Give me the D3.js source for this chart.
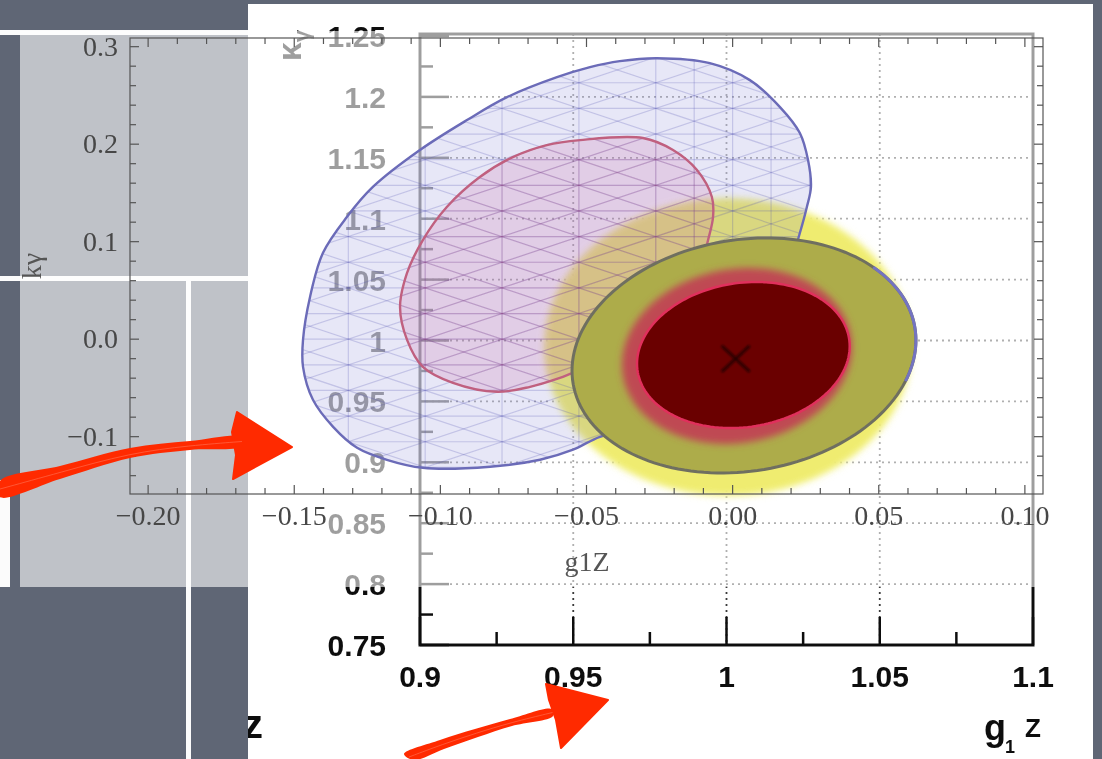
<!DOCTYPE html>
<html><head><meta charset="utf-8">
<script src="https://cdn.jsdelivr.net/npm/d3@7"></script>
<style>html,body{margin:0;padding:0;background:#5f6675;}svg{display:block}</style>
</head><body><svg id="c" width="1102" height="759"></svg>
<script>
// ---------------- DATA ----------------
// ROOT plot (g1Z vs kappa_gamma)
const rootXTicks = [0.9, 0.95, 1.0, 1.05, 1.1];
const rootXLabels = ["0.9", "0.95", "1", "1.05", "1.1"];
const rootXMinor = [0.925, 0.975, 1.025, 1.075];
const rootYTicks = [0.75, 0.8, 0.85, 0.9, 0.95, 1.0, 1.05, 1.1, 1.15, 1.2, 1.25];
const rootYLabels = ["0.75", "0.8", "0.85", "0.9", "0.95", "1", "1.05", "1.1", "1.15", "1.2", "1.25"];
const rootYMinor = [0.775, 0.825, 0.875, 0.925, 0.975, 1.025, 1.075, 1.125, 1.175, 1.225];
const rootGridX = [0.95, 1.0, 1.05];
const rootGridY = [0.8, 0.85, 0.9, 0.95, 1.0, 1.05, 1.1, 1.15, 1.2];
// ROOT contours: outer glow, outer band, inner halo, inner core
const rootCenterX = [1.0005, 1.0057, 1.0034, 1.0055];
const rootCenterY = [0.9947, 0.9877, 0.9873, 0.9881];
const rootHalfWidth = [0.0594, 0.0561, 0.0375, 0.0347];
const rootHalfHeight = [0.1207, 0.0965, 0.0722, 0.0600];
const rootTilt = [0.0, 0.13, 0.10, 0.12];
const bestFit = [1.003, 0.985];

// Overlaid plot (g1Z, k_gamma deviations)
const mmaXTicks = [-0.2, -0.15, -0.1, -0.05, 0.0, 0.05, 0.1];
const mmaXLabels = ["\u22120.20", "\u22120.15", "\u22120.10", "\u22120.05", "0.00", "0.05", "0.10"];
const mmaYTicks = [-0.1, 0.0, 0.1, 0.2, 0.3];
const mmaYLabels = ["\u22120.1", "0.0", "0.1", "0.2", "0.3"];
const mmaXRange = [-0.2062, 0.1062];
const mmaYRange = [-0.1588, 0.3089];
const blueContourX = [-0.0259,-0.0078,0.0059,0.0162,0.0230,0.0258,0.0268,0.0254,0.0230,0.0179,0.0059,-0.0112,-0.0317,-0.0454,-0.0546,-0.0659,-0.0830,-0.1060,-0.1183,-0.1285,-0.1367,-0.1436,-0.1470,-0.1470,-0.1446,-0.1402,-0.1320,-0.1231,-0.1070,-0.0909,-0.0772,-0.0601,-0.0488,-0.0386];
const blueContourY = [0.2882,0.2831,0.2657,0.2380,0.2114,0.1837,0.1561,0.1356,0.1089,0.0608,0.0000,-0.0570,-0.0908,-0.1001,-0.1134,-0.1237,-0.1308,-0.1319,-0.1237,-0.1114,-0.0899,-0.0622,-0.0284,-0.0007,0.0433,0.0884,0.1253,0.1561,0.1940,0.2247,0.2482,0.2687,0.2790,0.2852];
const pinkContourX = [-0.0522,-0.0307,-0.0204,-0.0122,-0.0071,-0.0067,-0.0084,-0.0112,-0.0180,-0.0317,-0.0454,-0.0546,-0.0591,-0.0693,-0.0806,-0.0957,-0.1060,-0.1114,-0.1138,-0.1114,-0.1060,-0.0978,-0.0865,-0.0752,-0.0636];
const pinkContourY = [0.2042,0.2063,0.1940,0.1735,0.1458,0.1253,0.1017,0.0710,0.0300,-0.0059,-0.0264,-0.0346,-0.0397,-0.0489,-0.0540,-0.0448,-0.0284,-0.0007,0.0331,0.0679,0.1017,0.1356,0.1663,0.1868,0.1991];
const meshStep = 0.0263;

// ---------------- DRAW ----------------
const svg = d3.select("#c");
const defs = svg.append("defs");
function blur(id, s){ defs.append("filter").attr("id", id).attr("x","-30%").attr("y","-30%").attr("width","160%").attr("height","160%")
  .append("feGaussianBlur").attr("stdDeviation", s); }
blur("b06", 0.6); blur("glow", 5); blur("blob", 3.5); blur("b1", 1);

const xR = d3.scaleLinear([0.9, 1.1], [420, 1033]);
const yR = d3.scaleLinear([0.75, 1.25], [645, 36]);
const xM = d3.scaleLinear(mmaXRange, [130, 1043]);
const yM = d3.scaleLinear(mmaYRange, [494, 38]);

// slide background
svg.append("rect").attr("width", 1102).attr("height", 759).attr("fill", "#5f6675");
const slideW = svg.append("g").attr("fill", "#fbfbfb");
slideW.append("rect").attr("x", 0).attr("y", 30).attr("width", 248).attr("height", 5);
slideW.append("rect").attr("x", 0).attr("y", 276).attr("width", 248).attr("height", 5);
slideW.append("rect").attr("x", 186).attr("y", 281).attr("width", 5).attr("height", 478);
slideW.append("rect").attr("x", 0).attr("y", 480).attr("width", 10).attr("height", 107);

// ROOT panel
svg.append("rect").attr("x", 248).attr("y", 4).attr("width", 845).attr("height", 755).attr("fill", "#ffffff");
defs.append("clipPath").attr("id", "panel").append("rect").attr("x", 248).attr("y", 4).attr("width", 845).attr("height", 755);
const root = svg.append("g").attr("clip-path", "url(#panel)");

// grid
const grid = root.append("g").attr("stroke", "#3a3a3a").attr("stroke-width", 1.8).attr("stroke-dasharray", "2,4");
rootGridX.forEach(v => grid.append("line").attr("x1", xR(v)).attr("x2", xR(v)).attr("y1", yR(1.25)-2).attr("y2", yR(0.75)));
rootGridY.forEach(v => grid.append("line").attr("x1", xR(0.9)).attr("x2", xR(1.1)).attr("y1", yR(v)).attr("y2", yR(v)));

// axes
const ax = root.append("g").attr("stroke", "#111").attr("filter", "url(#b06)");
ax.append("path").attr("fill", "none").attr("stroke-width", 3)
  .attr("d", `M${xR(0.9)},${yR(1.25)-2}V${yR(0.75)}H${xR(1.1)}V${yR(1.25)-2}Z`);
rootXTicks.forEach(v => ax.append("line").attr("stroke-width", 2.5).attr("x1", xR(v)).attr("x2", xR(v)).attr("y1", yR(0.75)).attr("y2", yR(0.75)-28));
rootXMinor.forEach(v => ax.append("line").attr("stroke-width", 2.5).attr("x1", xR(v)).attr("x2", xR(v)).attr("y1", yR(0.75)).attr("y2", yR(0.75)-13));
rootYTicks.forEach(v => ax.append("line").attr("stroke-width", 2.5).attr("x1", xR(0.9)).attr("x2", xR(0.9)+29).attr("y1", yR(v)).attr("y2", yR(v)));
rootYMinor.forEach(v => ax.append("line").attr("stroke-width", 2.5).attr("x1", xR(0.9)).attr("x2", xR(0.9)+13).attr("y1", yR(v)).attr("y2", yR(v)));

const lab = root.append("g").attr("font-family", "Liberation Sans, Arial, sans-serif").attr("font-weight", "bold")
  .attr("font-size", 30).attr("fill", "#111").attr("filter", "url(#b06)");
rootYTicks.forEach((v, i) => lab.append("text").attr("x", 386).attr("y", yR(v) + 11).attr("text-anchor", "end").text(rootYLabels[i]));
rootXTicks.forEach((v, i) => lab.append("text").attr("x", xR(v)).attr("y", 687).attr("text-anchor", "middle").text(rootXLabels[i]));
// axis titles
const yt = lab.append("text").attr("transform", "translate(301,30) rotate(-90)").attr("text-anchor", "end").attr("font-size", 34);
yt.append("tspan").text("\u03ba");
yt.append("tspan").attr("font-size", 22).attr("dy", 8).text("\u03b3");
lab.append("text").attr("x", 984).attr("y", 740).attr("font-size", 36).text("g");
lab.append("text").attr("x", 1005).attr("y", 753).attr("font-size", 18).text("1");
lab.append("text").attr("x", 1025).attr("y", 737).attr("font-size", 26).text("Z");
lab.append("text").attr("x", 243).attr("y", 738).attr("font-size", 40).text("z");

// semi-transparent overlay of the second plot
svg.append("rect").attr("x", 20).attr("y", 31).attr("width", 1030).attr("height", 556).attr("fill", "#ffffff").attr("opacity", 0.6);

// ROOT outer glow (yellow)
const ell = (i, t0 = 0, t1 = 2 * Math.PI, n = 160) => d3.range(n + 1).map(k => {
  const t = t0 + (t1 - t0) * k / n;
  return [xR(rootCenterX[i] + rootHalfWidth[i] * Math.cos(t)), yR(rootCenterY[i] + rootHalfHeight[i] * Math.sin(t + rootTilt[i]))];
});
const lineC = d3.line().curve(d3.curveLinearClosed);
const lineO = d3.line();
svg.append("path").attr("d", lineC(ell(0))).attr("fill", "#f6f590").attr("filter", "url(#glow)");
svg.append("path").attr("d", lineC(ell(0))).attr("fill", "#efec70").attr("filter", "url(#blob)");

// overlaid contours
const bluePts = blueContourX.map((x, i) => [xM(x), yM(blueContourY[i])]);
const pinkPts = pinkContourX.map((x, i) => [xM(x), yM(pinkContourY[i])]);
const smooth = d3.line().curve(d3.curveCatmullRomClosed.alpha(0.5));
defs.append("clipPath").attr("id", "blueClip").append("path").attr("d", smooth(bluePts));
defs.append("clipPath").attr("id", "pinkClip").append("path").attr("d", smooth(pinkPts));
svg.append("path").attr("d", smooth(bluePts)).attr("fill", "rgba(112,112,205,0.17)");
svg.append("path").attr("d", smooth(pinkPts)).attr("fill", "rgba(205,105,165,0.2)");

function meshLines(g){
  const x0 = -0.17, x1 = 0.05, y0 = -0.16, y1 = 0.31;
  d3.range(-7, 13).forEach(j => g.append("line").attr("x1", xM(x0)).attr("x2", xM(x1)).attr("y1", yM(j*meshStep)).attr("y2", yM(j*meshStep)));
  d3.range(-6, 2).forEach(i => g.append("line").attr("x1", xM(i*meshStep)).attr("x2", xM(i*meshStep)).attr("y1", yM(y0)).attr("y2", yM(y1)));
  [-0.5, 0.5].forEach(i => g.append("line").attr("x1", xM(i*meshStep)).attr("x2", xM(i*meshStep)).attr("y1", yM(y0)).attr("y2", yM(y1)));
  d3.range(-20, 12).forEach(k => {
    g.append("line").attr("x1", xM(x0)).attr("y1", yM(x0 - k*meshStep)).attr("x2", xM(x1)).attr("y2", yM(x1 - k*meshStep));
    g.append("line").attr("x1", xM(x0)).attr("y1", yM(k*meshStep - x0)).attr("x2", xM(x1)).attr("y2", yM(k*meshStep - x1));
  });
}
meshLines(svg.append("g").attr("clip-path", "url(#blueClip)").attr("stroke", "rgba(80,80,175,0.24)").attr("stroke-width", 1.2));
meshLines(svg.append("g").attr("clip-path", "url(#pinkClip)").attr("stroke", "rgba(170,60,110,0.18)").attr("stroke-width", 1.2));
svg.append("path").attr("d", smooth(bluePts)).attr("fill", "none").attr("stroke", "#6b6bb8").attr("stroke-width", 2.4);
svg.append("path").attr("d", smooth(pinkPts)).attr("fill", "none").attr("stroke", "#c0607f").attr("stroke-width", 2.4);

// overlaid plot frame
const fr = svg.append("g").attr("stroke", "#555").attr("stroke-width", 1.2).attr("fill", "none");
fr.append("rect").attr("x", xM(mmaXRange[0])).attr("y", yM(mmaYRange[1])).attr("width", xM(mmaXRange[1]) - xM(mmaXRange[0])).attr("height", yM(mmaYRange[0]) - yM(mmaYRange[1]));
const mxMinor = d3.range(-20, 11).map(i => i / 100);
const myMinor = d3.range(-7, 16).map(i => i / 50);
mxMinor.forEach(v => {
  const L = mmaXTicks.some(m => Math.abs(m - v) < 1e-6) ? 9 : 6;
  fr.append("line").attr("x1", xM(v)).attr("x2", xM(v)).attr("y1", yM(mmaYRange[0])).attr("y2", yM(mmaYRange[0]) - L);
  fr.append("line").attr("x1", xM(v)).attr("x2", xM(v)).attr("y1", yM(mmaYRange[1])).attr("y2", yM(mmaYRange[1]) + L);
});
myMinor.forEach(v => {
  const L = mmaYTicks.some(m => Math.abs(m - v) < 1e-6) ? 9 : 6;
  fr.append("line").attr("y1", yM(v)).attr("y2", yM(v)).attr("x1", xM(mmaXRange[0])).attr("x2", xM(mmaXRange[0]) + L);
  fr.append("line").attr("y1", yM(v)).attr("y2", yM(v)).attr("x1", xM(mmaXRange[1])).attr("x2", xM(mmaXRange[1]) - L);
});
const ml = svg.append("g").attr("font-family", "Liberation Serif, Times New Roman, serif").attr("font-size", 28).attr("fill", "#474747");
mmaYTicks.forEach((v, i) => ml.append("text").attr("x", 118).attr("y", yM(v) + 9).attr("text-anchor", "end").text(mmaYLabels[i]));
mmaXTicks.forEach((v, i) => ml.append("text").attr("x", xM(v)).attr("y", 525).attr("text-anchor", "middle").text(mmaXLabels[i]));
ml.append("text").attr("transform", "translate(41,266) rotate(-90)").attr("text-anchor", "middle").attr("fill", "#555").text("k\u03b3");
ml.append("text").attr("x", 587).attr("y", 571).attr("text-anchor", "middle").attr("fill", "#555").text("g1Z");

// ROOT inner contours
svg.append("path").attr("d", lineC(ell(1))).attr("fill", "#adac4a").attr("stroke", "#6f6f60").attr("stroke-width", 3);
svg.append("path").attr("d", lineO(ell(1, -0.35, 0.72, 40))).attr("fill", "none").attr("stroke", "#7474c0").attr("stroke-width", 3);
svg.append("path").attr("d", lineC(ell(2))).attr("fill", "#bf4852").attr("filter", "url(#blob)");
svg.append("path").attr("d", lineC(ell(3))).attr("fill", "#6a0000").attr("stroke", "#e0305c").attr("stroke-width", 2.5);
const bx = xR(bestFit[0]), by = yR(bestFit[1]);
svg.append("path").attr("d", `M${bx-14},${by-13}L${bx+14},${by+13}M${bx-14},${by+13}L${bx+14},${by-13}`)
  .attr("stroke", "rgba(20,0,0,0.75)").attr("stroke-width", 3).attr("filter", "url(#b1)");

// hand-drawn red arrows (annotation)
const arrows = [
  { shaft: [[0,481],[60,466],[130,448],[190,441],[242,437],[242,446],[190,450],[130,458],[60,479],[0,497]],
    head: [[237,412],[292,447],[233,479],[236,455],[232,432]] },
  { shaft: [[404,754],[440,740],[475,729],[510,719],[552,709],[553,716],[512,726],[478,737],[444,749],[414,760]],
    head: [[546,684],[608,700],[561,748],[556,720],[549,700]] }
];
const ar = svg.append("g");
arrows.forEach(a => {
  ar.append("path").attr("d", d3.line().curve(d3.curveCatmullRomClosed)(a.shaft)).attr("fill", "#ff2a00");
  ar.append("path").attr("d", d3.line().curve(d3.curveLinearClosed)(a.head)).attr("fill", "#ff2a00").attr("stroke", "#ff2a00").attr("stroke-width", 2).attr("stroke-linejoin", "round");
  const n = a.shaft.length / 2;
  const mid = d3.range(n).map(k => [(a.shaft[k][0] + a.shaft[2*n-1-k][0]) / 2, (a.shaft[k][1] + a.shaft[2*n-1-k][1]) / 2]);
  ar.append("path").attr("d", d3.line().curve(d3.curveBasis)(mid)).attr("fill", "none").attr("stroke", "#ff6a4a").attr("stroke-width", 1).attr("opacity", 0.7);
});
</script></body></html>
